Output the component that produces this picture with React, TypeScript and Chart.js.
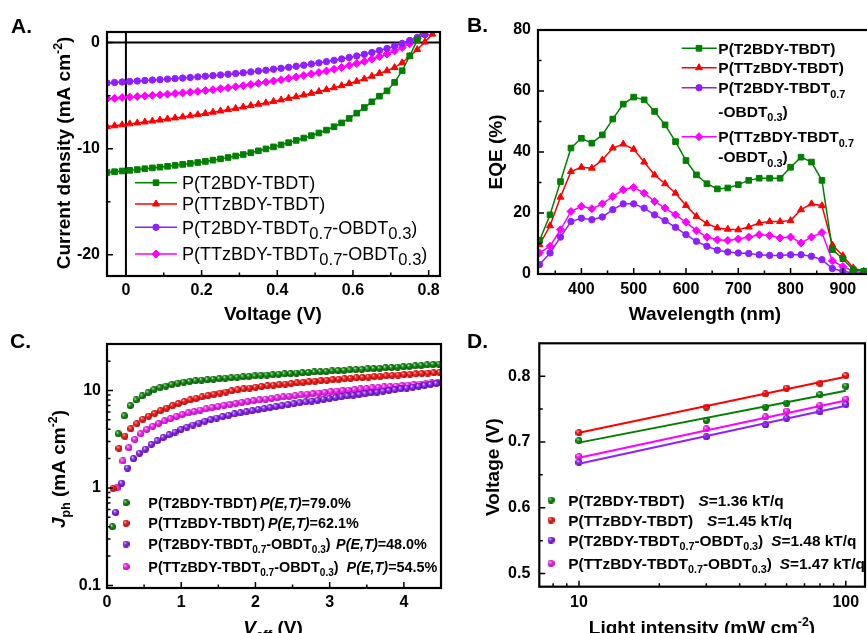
import React, { useEffect, useRef } from 'react';
import { Chart, registerables } from 'chart.js';

Chart.register(...registerables);

const FONT = '"Liberation Sans", Arial, Helvetica, sans-serif';
Chart.defaults.font.family = FONT;

// ---------------- Panel A: J-V ----------------
const A_VOLTAGE = [-0.05, -0.03, -0.01, 0.01, 0.03, 0.05, 0.07, 0.09, 0.11, 0.13, 0.15, 0.17, 0.19, 0.21, 0.23, 0.25, 0.27, 0.29, 0.31, 0.33, 0.35, 0.37, 0.39, 0.41, 0.43, 0.45, 0.47, 0.49, 0.51, 0.53, 0.55, 0.57, 0.59, 0.61, 0.63, 0.65, 0.67, 0.69, 0.71, 0.73, 0.75, 0.77, 0.79, 0.81, 0.83];
const A_T2BDY = [-12.24, -12.17, -12.1, -12.04, -11.97, -11.89, -11.81, -11.74, -11.66, -11.57, -11.48, -11.39, -11.3, -11.2, -11.08, -10.96, -10.83, -10.69, -10.55, -10.38, -10.2, -10.02, -9.83, -9.64, -9.43, -9.22, -9.0, -8.77, -8.52, -8.25, -7.93, -7.57, -7.15, -6.65, -6.12, -5.58, -5.05, -4.55, -3.75, -2.65, -1.25, 0.25, 1.7];
const A_TTZ = [-7.92, -7.84, -7.75, -7.66, -7.57, -7.48, -7.39, -7.3, -7.2, -7.1, -7.0, -6.9, -6.79, -6.68, -6.56, -6.44, -6.32, -6.2, -6.07, -5.94, -5.81, -5.68, -5.54, -5.4, -5.25, -5.1, -4.94, -4.78, -4.61, -4.43, -4.25, -4.06, -3.86, -3.65, -3.42, -3.17, -2.9, -2.65, -2.35, -1.9, -1.3, -0.65, 0.05, 0.8, 1.5];
const A_T2_OBDT = [-3.8, -3.76, -3.71, -3.66, -3.62, -3.57, -3.53, -3.49, -3.44, -3.39, -3.34, -3.29, -3.23, -3.17, -3.11, -3.05, -2.98, -2.91, -2.84, -2.76, -2.68, -2.6, -2.51, -2.42, -2.33, -2.23, -2.13, -2.02, -1.91, -1.79, -1.67, -1.54, -1.4, -1.26, -1.1, -0.93, -0.75, -0.55, -0.33, -0.08, 0.2, 0.48, 0.75];
const A_TTZ_OBDT = [-5.3, -5.25, -5.18, -5.13, -5.08, -5.03, -4.97, -4.92, -4.86, -4.8, -4.74, -4.67, -4.6, -4.52, -4.44, -4.35, -4.26, -4.16, -4.06, -3.95, -3.84, -3.73, -3.62, -3.5, -3.37, -3.24, -3.1, -2.96, -2.82, -2.67, -2.51, -2.34, -2.16, -1.97, -1.77, -1.56, -1.33, -1.07, -0.78, -0.47, -0.1, 0.4, 0.75];
const A_X_TICKS = [0, 0.2, 0.4, 0.6, 0.8];
const A_X_MINOR = [0.1, 0.3, 0.5, 0.7];
const A_Y_TICKS = [-20, -10, 0];
const A_Y_MINOR = [-15, -5];

// ---------------- Panel B: EQE ----------------
const B_WAVELENGTH = [320, 340, 360, 380, 400, 420, 440, 460, 480, 500, 520, 540, 560, 580, 600, 620, 640, 660, 680, 700, 720, 740, 760, 780, 800, 820, 840, 860, 880, 900, 920, 940];
const B_T2BDY = [11.0, 19.4, 30.3, 41.3, 44.5, 42.9, 45.6, 50.8, 55.7, 58.0, 57.1, 53.3, 48.9, 43.4, 37.2, 32.5, 29.6, 27.9, 28.2, 29.3, 30.7, 31.4, 31.4, 31.4, 35.0, 38.3, 36.7, 30.7, 8.0, 5.0, 1.4, 0.9];
const B_TTZ = [9.6, 15.8, 25.2, 33.6, 35.0, 34.7, 37.4, 41.3, 42.6, 40.9, 36.7, 32.5, 29.6, 26.5, 22.5, 18.9, 16.5, 15.1, 14.7, 14.5, 15.4, 16.7, 17.2, 17.2, 17.5, 21.1, 23.0, 22.4, 9.5, 6.0, 2.0, 0.9];
const B_T2_OBDT = [3.1, 6.9, 12.1, 17.2, 18.3, 17.8, 18.7, 21.1, 23.0, 23.0, 21.6, 19.4, 17.5, 15.3, 12.9, 10.7, 9.1, 7.8, 7.2, 6.9, 6.7, 6.3, 6.1, 6.1, 6.3, 6.3, 5.8, 4.7, 1.8, 0.9, 0.3, 0.1];
const B_TTZ_OBDT = [6.9, 9.1, 14.5, 20.5, 22.2, 21.4, 23.0, 25.4, 27.6, 28.4, 26.5, 23.8, 21.6, 19.4, 17.0, 14.2, 12.1, 11.2, 11.0, 11.5, 12.1, 12.9, 12.6, 11.8, 12.1, 10.2, 12.1, 13.6, 4.3, 2.5, 0.9, 0.3];
const B_X_TICKS = [400, 500, 600, 700, 800, 900];
const B_X_MINOR = [350, 450, 550, 650, 750, 850];
const B_Y_TICKS = [0, 20, 40, 60, 80];
const B_Y_MINOR = [10, 30, 50, 70];

// ---------------- Panel C: Jph vs Veff ----------------
const C_VEFF_STEP = [0, 0.08, 0.16, 0.24, 0.32, 0.40, 0.48, 0.56, 0.64, 0.72, 0.80, 0.88, 0.96, 1.04, 1.12, 1.20, 1.28, 1.36, 1.44, 1.52, 1.60, 1.68, 1.76, 1.84, 1.92, 2.00, 2.08, 2.16, 2.24, 2.32, 2.40, 2.48, 2.56, 2.64, 2.72, 2.80, 2.88, 2.96, 3.04, 3.12, 3.20, 3.28, 3.36, 3.44, 3.52, 3.60, 3.68, 3.76, 3.84, 3.92, 4.00, 4.08, 4.16, 4.24, 4.32, 4.40];
const C_START = { t2bdy: 0.073, ttz: 0.081, t2Obdt: 0.117, ttzObdt: 0.135 };
const C_T2BDY = [0.40, 3.6, 5.5, 7.0, 8.0, 8.8, 9.5, 10.2, 10.7, 11.1, 11.5, 11.9, 12.2, 12.4, 12.6, 12.8, 12.9, 13.1, 13.2, 13.4, 13.5, 13.7, 13.8, 14.0, 14.1, 14.3, 14.4, 14.5, 14.7, 14.8, 14.9, 15.1, 15.2, 15.3, 15.5, 15.6, 15.7, 15.9, 16.0, 16.1, 16.3, 16.4, 16.5, 16.7, 16.8, 16.9, 17.1, 17.2, 17.4, 17.5, 17.7, 17.9, 18.1, 18.3, 18.5, 18.7];
const C_TTZ = [0.99, 2.55, 3.4, 4.05, 4.56, 5.05, 5.46, 5.82, 6.22, 6.6, 7.0, 7.35, 7.7, 8.0, 8.3, 8.6, 8.9, 9.15, 9.4, 9.65, 9.9, 10.15, 10.4, 10.6, 10.8, 11.0, 11.2, 11.35, 11.5, 11.65, 11.8, 12.0, 12.15, 12.3, 12.45, 12.6, 12.75, 12.9, 13.05, 13.2, 13.35, 13.5, 13.6, 13.75, 13.9, 14.0, 14.15, 14.3, 14.4, 14.55, 14.7, 14.8, 14.95, 15.1, 15.2, 15.35];
const C_T2_OBDT = [0.56, 1.12, 1.6, 2.0, 2.27, 2.5, 2.8, 3.05, 3.3, 3.52, 3.75, 3.98, 4.2, 4.42, 4.63, 4.83, 5.03, 5.22, 5.4, 5.57, 5.74, 5.9, 6.06, 6.22, 6.4, 6.55, 6.7, 6.85, 7.0, 7.15, 7.32, 7.48, 7.64, 7.8, 7.96, 8.12, 8.3, 8.46, 8.62, 8.78, 8.94, 9.1, 9.27, 9.45, 9.63, 9.81, 10.0, 10.2, 10.4, 10.6, 10.8, 11.05, 11.3, 11.55, 11.8];
const C_TTZ_OBDT = [1.0, 1.89, 2.59, 3.15, 3.6, 3.98, 4.3, 4.6, 4.87, 5.15, 5.42, 5.68, 5.9, 6.1, 6.3, 6.5, 6.68, 6.86, 7.03, 7.2, 7.37, 7.53, 7.7, 7.86, 8.0, 8.15, 8.3, 8.44, 8.58, 8.72, 8.86, 9.0, 9.14, 9.28, 9.42, 9.56, 9.7, 9.84, 9.97, 10.1, 10.23, 10.36, 10.49, 10.62, 10.75, 10.87, 11.0, 11.12, 11.24, 11.37, 11.5, 11.65, 11.8, 11.95, 12.1];
const C_X_TICKS = [0, 1, 2, 3, 4];
const C_X_MINOR = [0.5, 1.5, 2.5, 3.5];
const C_Y_TICKS = [0.1, 1, 10];
const C_Y_MINOR = [0.2, 0.3, 0.4, 0.5, 0.6, 0.7, 0.8, 0.9, 2, 3, 4, 5, 6, 7, 8, 9, 20];

// ---------------- Panel D: Voc vs light intensity ----------------
const D_INTENSITY = [10, 30, 50, 60, 80, 100];
const D_T2BDY = [0.702, 0.733, 0.753, 0.759, 0.772, 0.785];
const D_TTZ = [0.714, 0.753, 0.773, 0.782, 0.789, 0.801];
const D_T2_OBDT = [0.669, 0.708, 0.726, 0.736, 0.746, 0.757];
const D_TTZ_OBDT = [0.678, 0.720, 0.738, 0.747, 0.755, 0.765];
const D_FIT_X = [10, 100];
const D_FIT_T2BDY = [0.699, 0.778];
const D_FIT_TTZ = [0.714, 0.799];
const D_FIT_T2_OBDT = [0.667, 0.755];
const D_FIT_TTZ_OBDT = [0.676, 0.763];
const D_X_TICKS = [10, 100];
const D_X_MINOR = [8, 9, 20, 30, 40, 50, 60, 70, 80, 90];
const D_Y_TICKS = [0.5, 0.6, 0.7, 0.8];
const D_Y_MINOR = [0.55, 0.65, 0.75];

// ---------------- styling ----------------
const GREEN = '#008000';
const RED = '#FF0000';
const PURPLE = '#8F1FFF';
const MAGENTA = '#FF00FF';
const TITLE = 19;

type Seg = { t: string; sub?: boolean; sup?: boolean; it?: boolean; gap?: number };
interface TextItem { segs: Seg[]; x: number; y: number; size: number; weight?: string; align?: 'left' | 'center'; rot?: boolean; sc?: number; subDy?: number; supDy?: number; }
interface MarkItem { x: number; y: number; color: string; style: string; r: number; line?: [number, number]; img?: HTMLCanvasElement; }
interface DecorCfg { xMajor: number[]; xMinor: number[]; yMajor: number[]; yMinor: number[]; zero?: boolean; texts: TextItem[]; marks: MarkItem[]; }

function fontOf(s: Seg, size: number, weight: string, sc: number) {
  const sz = s.sub || s.sup ? size * sc : size;
  return `${s.it ? 'italic ' : ''}${weight} ${sz}px ${FONT}`;
}

function drawText(ctx: CanvasRenderingContext2D, it: TextItem) {
  const weight = it.weight ?? 'bold';
  const sc = it.sc ?? 0.7;
  const subDy = it.subDy ?? it.size * 0.28;
  const supDy = it.supDy ?? it.size * 0.42;
  ctx.save();
  ctx.fillStyle = '#000';
  ctx.textBaseline = 'alphabetic';
  ctx.textAlign = 'left';
  const widths = it.segs.map((s) => {
    if (s.gap) return s.gap;
    ctx.font = fontOf(s, it.size, weight, sc);
    return ctx.measureText(s.t).width;
  });
  const total = widths.reduce((a, b) => a + b, 0);
  const base = it.size * 0.36;
  ctx.translate(it.x, it.y);
  if (it.rot) ctx.rotate(-Math.PI / 2);
  let x = it.align === 'center' ? -total / 2 : 0;
  it.segs.forEach((s, i) => {
    if (!s.gap) {
      ctx.font = fontOf(s, it.size, weight, sc);
      const dy = s.sub ? subDy : s.sup ? -supDy : 0;
      ctx.fillText(s.t, x, base + dy);
    }
    x += widths[i];
  });
  ctx.restore();
}

function shapePath(ctx: CanvasRenderingContext2D, style: string, x: number, y: number, r: number) {
  ctx.beginPath();
  if (style === 'rect') {
    const s = r * Math.SQRT1_2;
    ctx.rect(x - s, y - s, 2 * s, 2 * s);
  } else if (style === 'triangle') {
    for (let k = 0; k < 3; k++) {
      const a = (k * 2 * Math.PI) / 3;
      const px = x + Math.sin(a) * r;
      const py = y - Math.cos(a) * r;
      if (k === 0) ctx.moveTo(px, py);
      else ctx.lineTo(px, py);
    }
    ctx.closePath();
  } else if (style === 'rectRot') {
    ctx.moveTo(x, y - r);
    ctx.lineTo(x + r, y);
    ctx.lineTo(x, y + r);
    ctx.lineTo(x - r, y);
    ctx.closePath();
  } else {
    ctx.arc(x, y, r, 0, Math.PI * 2);
  }
}

function drawMark(ctx: CanvasRenderingContext2D, m: MarkItem) {
  ctx.save();
  if (m.line) {
    ctx.strokeStyle = m.color;
    ctx.lineWidth = 1.6;
    ctx.beginPath();
    ctx.moveTo(m.line[0], m.y);
    ctx.lineTo(m.line[1], m.y);
    ctx.stroke();
  }
  if (m.img) {
    ctx.drawImage(m.img, m.x - m.img.width / 2, m.y - m.img.height / 2);
  } else {
    ctx.fillStyle = m.color;
    ctx.strokeStyle = m.color;
    ctx.lineWidth = 1;
    shapePath(ctx, m.style, m.x, m.y, m.r);
    ctx.fill();
    ctx.stroke();
  }
  ctx.restore();
}

function makeDecor(cfg: DecorCfg) {
  return {
    id: 'decor',
    beforeDatasetsDraw(chart: any) {
      if (!cfg.zero) return;
      const { ctx, chartArea: a, scales } = chart;
      ctx.save();
      ctx.strokeStyle = '#000';
      ctx.lineWidth = 2;
      const y0 = scales.y.getPixelForValue(0);
      const x0 = scales.x.getPixelForValue(0);
      ctx.beginPath();
      ctx.moveTo(a.left, y0);
      ctx.lineTo(a.right, y0);
      ctx.moveTo(x0, a.top);
      ctx.lineTo(x0, a.bottom);
      ctx.stroke();
      ctx.restore();
    },
    afterDraw(chart: any) {
      const { ctx, chartArea: a, scales } = chart;
      ctx.save();
      ctx.strokeStyle = '#000';
      ctx.lineWidth = 1.5;
      ctx.beginPath();
      const xt = (vals: number[], len: number) => vals.forEach((v) => {
        const p = scales.x.getPixelForValue(v);
        if (p < a.left - 0.5 || p > a.right + 0.5) return;
        ctx.moveTo(p, a.bottom);
        ctx.lineTo(p, a.bottom - len);
      });
      const yt = (vals: number[], len: number) => vals.forEach((v) => {
        const p = scales.y.getPixelForValue(v);
        if (p < a.top - 0.5 || p > a.bottom + 0.5) return;
        ctx.moveTo(a.left, p);
        ctx.lineTo(a.left + len, p);
      });
      xt(cfg.xMajor, 6);
      xt(cfg.xMinor, 3.5);
      yt(cfg.yMajor, 6);
      yt(cfg.yMinor, 3.5);
      ctx.stroke();
      ctx.lineWidth = 2.2;
      ctx.strokeRect(a.left, a.top, a.right - a.left, a.bottom - a.top);
      ctx.restore();
      cfg.marks.forEach((m) => drawMark(ctx, m));
      cfg.texts.forEach((t) => drawText(ctx, t));
    },
  };
}

function axis(pos: 'bottom' | 'left', type: string, min: number, max: number, ticks: number[], size: number, pad: number) {
  return {
    type,
    position: pos,
    min,
    max,
    grid: { display: false, drawTicks: false },
    border: { display: false },
    ticks: {
      autoSkip: false,
      maxRotation: 0,
      minRotation: 0,
      padding: pad,
      color: '#000',
      font: { family: FONT, size: 16, weight: 'bold' },
      callback: (v: any) => String(v),
    },
    afterBuildTicks: (s: any) => {
      s.ticks = ticks.map((v) => ({ value: v }));
    },
    afterFit: (s: any) => {
      if (pos === 'bottom') s.height = size;
      else s.width = size;
      s.paddingLeft = 0;
      s.paddingRight = 0;
      s.paddingTop = 0;
      s.paddingBottom = 0;
    },
  };
}

function xy(xs: number[], ys: number[], offset = 0) {
  return ys.map((y, i) => ({ x: xs[i] + offset, y }));
}

function ball(color: string, dark: string, d: number) {
  const c = document.createElement('canvas');
  c.width = d;
  c.height = d;
  const g = c.getContext('2d')!;
  const r = d / 2;
  const grad = g.createRadialGradient(r * 0.65, r * 0.6, r * 0.05, r, r, r);
  grad.addColorStop(0, '#ffffff');
  grad.addColorStop(0.3, color);
  grad.addColorStop(1, dark);
  g.fillStyle = grad;
  g.beginPath();
  g.arc(r, r, r, 0, Math.PI * 2);
  g.fill();
  return c;
}

const baseOptions = (pad: any, scales: any) => ({
  responsive: false,
  maintainAspectRatio: false,
  animation: false,
  events: [],
  layout: { padding: pad },
  plugins: { legend: { display: false }, tooltip: { enabled: false } },
  scales,
});

const lineDs = (label: string, data: any[], color: string, style: string, r: number) => ({
  label,
  data,
  showLine: true,
  borderColor: color,
  backgroundColor: color,
  borderWidth: 1.5,
  pointStyle: style,
  pointRadius: r,
  pointBorderWidth: 1,
  pointBackgroundColor: color,
  pointBorderColor: color,
  clip: 0,
});

const SUB = (t: string): Seg => ({ t, sub: true });

function buildA() {
  const rows = [182.7, 204, 227.3, 254];
  const legendText: Seg[][] = [
    [{ t: 'P(T2BDY-TBDT)' }],
    [{ t: 'P(TTzBDY-TBDT)' }],
    [{ t: 'P(T2BDY-TBDT' }, SUB('0.7'), { t: '-OBDT' }, SUB('0.3'), { t: ')' }],
    [{ t: 'P(TTzBDY-TBDT' }, SUB('0.7'), { t: '-OBDT' }, SUB('0.3'), { t: ')' }],
  ];
  const cols = [GREEN, RED, PURPLE, MAGENTA];
  const styles = ['rect', 'triangle', 'circle', 'rectRot'];
  const radii = [4, 4, 3.2, 4];
  const texts: TextItem[] = [
    { segs: [{ t: 'A.' }], x: 11, y: 25.5, size: 21 },
    { segs: [{ t: 'Current density (mA cm' }, { t: '-2', sup: true }, { t: ')' }], x: 63, y: 153, size: TITLE, rot: true, align: 'center', sc: 0.65 },
    { segs: [{ t: 'Voltage (V)' }], x: 273, y: 313, size: TITLE, align: 'center' },
    ...legendText.map((segs, i) => ({ segs, x: 182, y: rows[i], size: 18, weight: 'normal', sc: 0.92, subDy: 5 })),
  ];
  const marks: MarkItem[] = rows.map((y, i) => ({ x: 156, y, color: cols[i], style: styles[i], r: radii[i], line: [135, 177] as [number, number] }));
  return {
    type: 'scatter',
    data: {
      datasets: [
        lineDs('P(T2BDY-TBDT)', xy(A_VOLTAGE, A_T2BDY), GREEN, 'rect', 4),
        lineDs('P(TTzBDY-TBDT)', xy(A_VOLTAGE, A_TTZ), RED, 'triangle', 4),
        lineDs('P(T2BDY-TBDT0.7-OBDT0.3)', xy(A_VOLTAGE, A_T2_OBDT), PURPLE, 'circle', 3.2),
        lineDs('P(TTzBDY-TBDT0.7-OBDT0.3)', xy(A_VOLTAGE, A_TTZ_OBDT), MAGENTA, 'rectRot', 4),
      ],
    },
    options: baseOptions({ left: 0, top: 32, right: 10, bottom: 0 }, {
      x: axis('bottom', 'linear', -0.05, 0.83, A_X_TICKS, 54, 5),
      y: axis('left', 'linear', -22, 1, A_Y_TICKS, 107, 7),
    }),
    plugins: [makeDecor({ xMajor: A_X_TICKS, xMinor: A_X_MINOR, yMajor: A_Y_TICKS, yMinor: A_Y_MINOR, zero: true, texts, marks })],
  };
}

function buildB() {
  const cols = [GREEN, RED, PURPLE, MAGENTA];
  const styles = ['rect', 'triangle', 'circle', 'rectRot'];
  const radii = [4, 4, 3.2, 4];
  const markRows = [48.3, 67.7, 87.7, 136.7];
  const lg = { x: 278.3, size: 15.5, sc: 0.7, subDy: 4.5 };
  const texts: TextItem[] = [
    { segs: [{ t: 'B.' }], x: 27, y: 24, size: 21 },
    { segs: [{ t: 'EQE (%)' }], x: 55, y: 152, size: TITLE, rot: true, align: 'center' },
    { segs: [{ t: 'Wavelength (nm)' }], x: 265, y: 313, size: TITLE, align: 'center' },
    { segs: [{ t: 'P(T2BDY-TBDT)' }], y: 48.3, ...lg },
    { segs: [{ t: 'P(TTzBDY-TBDT)' }], y: 67.7, ...lg },
    { segs: [{ t: 'P(T2BDY-TBDT' }, SUB('0.7')], y: 87.7, ...lg },
    { segs: [{ t: '-OBDT' }, SUB('0.3'), { t: ')' }], y: 111, ...lg },
    { segs: [{ t: 'P(TTzBDY-TBDT' }, SUB('0.7')], y: 136.7, ...lg },
    { segs: [{ t: '-OBDT' }, SUB('0.3'), { t: ')' }], y: 156.7, ...lg },
  ];
  const marks: MarkItem[] = markRows.map((y, i) => ({ x: 259, y, color: cols[i], style: styles[i], r: radii[i], line: [241.7, 276.7] as [number, number] }));
  return {
    type: 'scatter',
    data: {
      datasets: [
        lineDs('P(T2BDY-TBDT)', xy(B_WAVELENGTH, B_T2BDY), GREEN, 'rect', 4),
        lineDs('P(TTzBDY-TBDT)', xy(B_WAVELENGTH, B_TTZ), RED, 'triangle', 4),
        lineDs('P(T2BDY-TBDT0.7-OBDT0.3)', xy(B_WAVELENGTH, B_T2_OBDT), PURPLE, 'circle', 3.2),
        lineDs('P(TTzBDY-TBDT0.7-OBDT0.3)', xy(B_WAVELENGTH, B_TTZ_OBDT), MAGENTA, 'rectRot', 4),
      ],
    },
    options: baseOptions({ left: 0, top: 30, right: 11, bottom: 0 }, {
      x: axis('bottom', 'linear', 317, 950, B_X_TICKS, 56, 6),
      y: axis('left', 'linear', 0, 80, B_Y_TICKS, 98, 7),
    }),
    plugins: [makeDecor({ xMajor: B_X_TICKS, xMinor: B_X_MINOR, yMajor: B_Y_TICKS, yMinor: B_Y_MINOR, texts, marks })],
  };
}

const BALLS = () => ({
  green: ball('#22a322', '#004d00', 7),
  red: ball('#ff3030', '#b00000', 7),
  purple: ball('#a040ff', '#5000a8', 7),
  magenta: ball('#ff40ff', '#b000b0', 7),
});

const ballDs = (label: string, data: any[], img: HTMLCanvasElement) => ({
  label,
  data,
  showLine: false,
  pointStyle: img,
  pointRadius: 3.5,
  clip: 0,
});

function buildC() {
  const b = BALLS();
  const imgs = [b.green, b.red, b.purple, b.magenta];
  const rows = [182.7, 203.3, 224, 246.7];
  const lg = { x: 148.3, size: 14.4, sc: 0.7, subDy: 4.3 };
  const PET: Seg = { t: 'P(E,T)', it: true };
  const texts: TextItem[] = [
    { segs: [{ t: 'C.' }], x: 10, y: 20.5, size: 21 },
    { segs: [{ t: 'J', it: true }, { t: 'ph', sub: true }, { t: ' (mA cm' }, { t: '-2', sup: true }, { t: ')' }], x: 58, y: 149, size: TITLE, rot: true, align: 'center', sc: 0.65, subDy: 5 },
    { segs: [{ t: 'V', it: true }, { t: 'eff', sub: true }, { t: ' (V)' }], x: 273, y: 307, size: TITLE, align: 'center', sc: 0.7, subDy: 5 },
    { segs: [{ t: 'P(T2BDY-TBDT)' }, { t: '', gap: 3 }, PET, { t: '=79.0%' }], y: rows[0], ...lg },
    { segs: [{ t: 'P(TTzBDY-TBDT)' }, { t: '', gap: 3 }, PET, { t: '=62.1%' }], y: rows[1], ...lg },
    { segs: [{ t: 'P(T2BDY-TBDT' }, SUB('0.7'), { t: '-OBDT' }, SUB('0.3'), { t: ')' }, { t: '', gap: 5.5 }, PET, { t: '=48.0%' }], y: rows[2], ...lg },
    { segs: [{ t: 'P(TTzBDY-TBDT' }, SUB('0.7'), { t: '-OBDT' }, SUB('0.3'), { t: ')' }, { t: '', gap: 8 }, PET, { t: '=54.5%' }], y: rows[3], ...lg },
  ];
  const marks: MarkItem[] = rows.map((y, i) => ({ x: 126, y, color: '#000', style: 'circle', r: 3.5, img: imgs[i] }));
  return {
    type: 'scatter',
    data: {
      datasets: [
        ballDs('P(T2BDY-TBDT)', xy(C_VEFF_STEP, C_T2BDY, C_START.t2bdy), b.green),
        ballDs('P(TTzBDY-TBDT)', xy(C_VEFF_STEP, C_TTZ, C_START.ttz), b.red),
        ballDs('P(T2BDY-TBDT0.7-OBDT0.3)', xy(C_VEFF_STEP, C_T2_OBDT, C_START.t2Obdt), b.purple),
        ballDs('P(TTzBDY-TBDT0.7-OBDT0.3)', xy(C_VEFF_STEP, C_TTZ_OBDT, C_START.ttzObdt), b.magenta),
      ],
    },
    options: baseOptions({ left: 0, top: 24, right: 9, bottom: 0 }, {
      x: axis('bottom', 'linear', 0, 4.5, C_X_TICKS, 45, 5),
      y: axis('left', 'logarithmic', 0.094, 30, C_Y_TICKS, 107, 6),
    }),
    plugins: [makeDecor({ xMajor: C_X_TICKS, xMinor: C_X_MINOR, yMajor: C_Y_TICKS, yMinor: C_Y_MINOR, texts, marks })],
  };
}

function buildD() {
  const b = BALLS();
  const imgs = [b.green, b.red, b.purple, b.magenta];
  const rows = [180, 200, 220, 243.3];
  const lg = { x: 128.3, size: 15.4, sc: 0.7, subDy: 4.5 };
  const S: Seg = { t: 'S', it: true };
  const texts: TextItem[] = [
    { segs: [{ t: 'D.' }], x: 27, y: 20.5, size: 21 },
    { segs: [{ t: 'Voltage (V)' }], x: 52, y: 147, size: TITLE, rot: true, align: 'center' },
    { segs: [{ t: 'Light intensity (mW cm' }, { t: '-2', sup: true }, { t: ')' }], x: 262, y: 307, size: TITLE, align: 'center', sc: 0.65 },
    { segs: [{ t: 'P(T2BDY-TBDT)' }, { t: '', gap: 14 }, S, { t: '=1.36 kT/q' }], y: rows[0], ...lg },
    { segs: [{ t: 'P(TTzBDY-TBDT)' }, { t: '', gap: 14 }, S, { t: '=1.45 kT/q' }], y: rows[1], ...lg },
    { segs: [{ t: 'P(T2BDY-TBDT' }, SUB('0.7'), { t: '-OBDT' }, SUB('0.3'), { t: ')' }, { t: '', gap: 8 }, S, { t: '=1.48 kT/q' }], y: rows[2], ...lg },
    { segs: [{ t: 'P(TTzBDY-TBDT' }, SUB('0.7'), { t: '-OBDT' }, SUB('0.3'), { t: ')' }, { t: '', gap: 8 }, S, { t: '=1.47 kT/q' }], y: rows[3], ...lg },
  ];
  const marks: MarkItem[] = rows.map((y, i) => ({ x: 111, y, color: '#000', style: 'circle', r: 3.5, img: imgs[i] }));
  const fit = (data: any[], color: string) => ({ data, showLine: true, borderColor: color, borderWidth: 2, pointRadius: 0, clip: 0 });
  return {
    type: 'scatter',
    data: {
      datasets: [
        fit(xy(D_FIT_X, D_FIT_T2BDY), GREEN),
        fit(xy(D_FIT_X, D_FIT_TTZ), RED),
        fit(xy(D_FIT_X, D_FIT_T2_OBDT), PURPLE),
        fit(xy(D_FIT_X, D_FIT_TTZ_OBDT), MAGENTA),
        ballDs('P(T2BDY-TBDT)', xy(D_INTENSITY, D_T2BDY), b.green),
        ballDs('P(TTzBDY-TBDT)', xy(D_INTENSITY, D_TTZ), b.red),
        ballDs('P(T2BDY-TBDT0.7-OBDT0.3)', xy(D_INTENSITY, D_T2_OBDT), b.purple),
        ballDs('P(TTzBDY-TBDT0.7-OBDT0.3)', xy(D_INTENSITY, D_TTZ_OBDT), b.magenta),
      ],
    },
    options: baseOptions({ left: 0, top: 23.3, right: 15, bottom: 0 }, {
      x: axis('bottom', 'logarithmic', 7.1, 118, D_X_TICKS, 46.3, 6),
      y: axis('left', 'linear', 0.48, 0.85, D_Y_TICKS, 99.3, 9),
    }),
    plugins: [makeDecor({ xMajor: D_X_TICKS, xMinor: D_X_MINOR, yMajor: D_Y_TICKS, yMinor: D_Y_MINOR, texts, marks })],
  };
}

function Panel({ build, left, top, width, height }: { build: () => any; left: number; top: number; width: number; height: number }) {
  const ref = useRef<HTMLCanvasElement>(null);
  useEffect(() => {
    const chart = new Chart(ref.current as HTMLCanvasElement, build());
    return () => chart.destroy();
  }, []);
  return <canvas ref={ref} width={width} height={height} style={{ position: 'absolute', left, top, width, height }} />;
}

export default function App() {
  return (
    <div style={{ position: 'absolute', left: 0, top: 0, width: 867, height: 633, overflow: 'hidden', background: '#fff' }}>
      <Panel build={buildA} left={0} top={0} width={450} height={330} />
      <Panel build={buildB} left={440} top={0} width={440} height={330} />
      <Panel build={buildC} left={0} top={320} width={450} height={313} />
      <Panel build={buildD} left={440} top={320} width={440} height={313} />
    </div>
  );
}
